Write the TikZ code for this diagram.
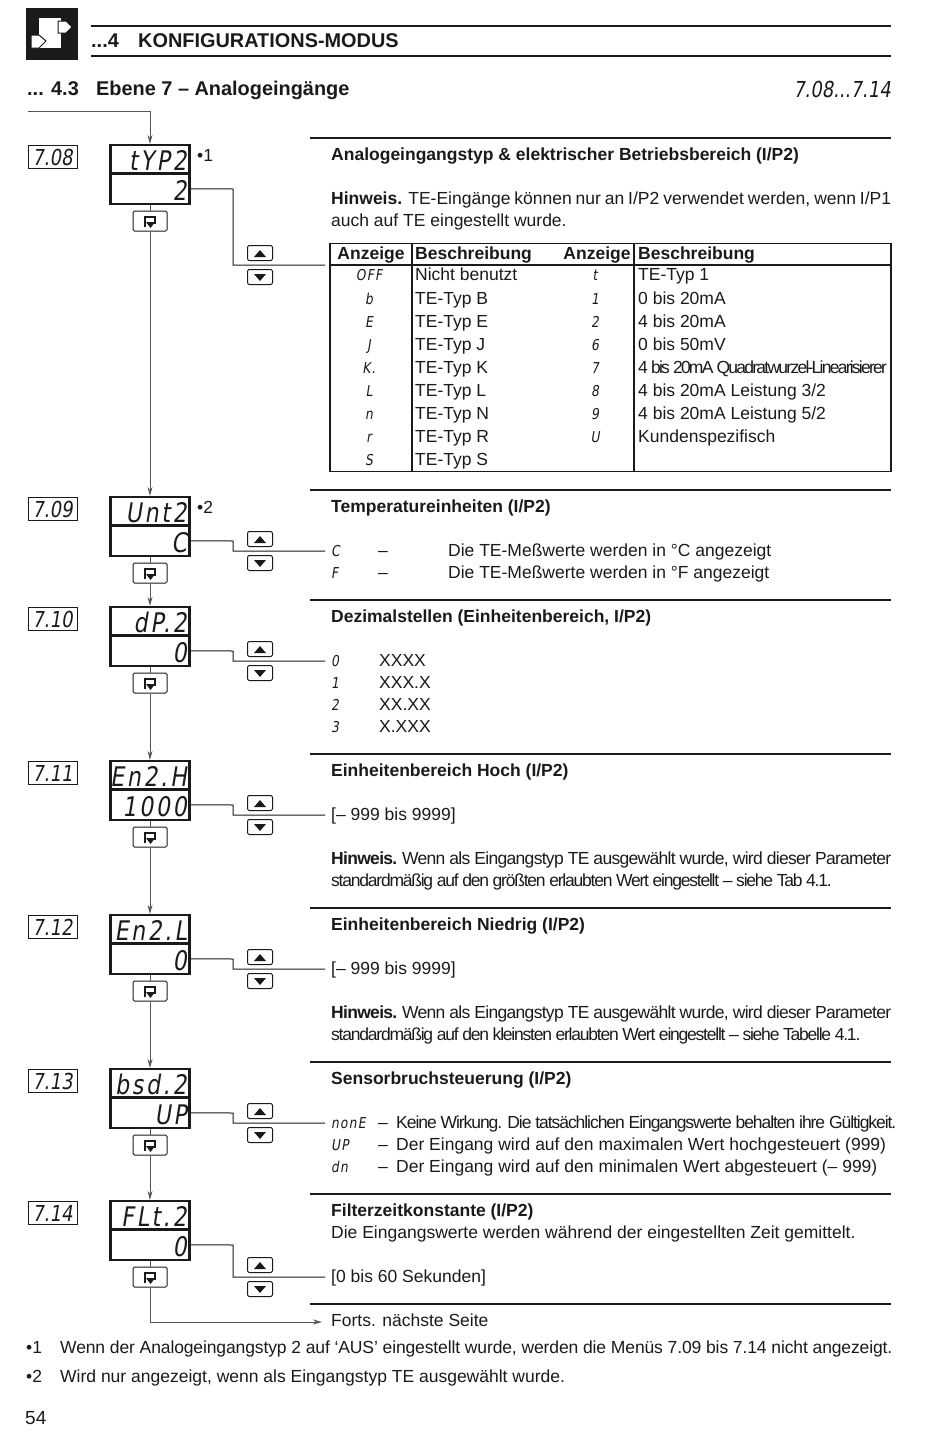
\documentclass[tikz,border=0pt]{standalone}
\usepackage{fontspec}
\setmainfont{Liberation Sans}
\newfontfamily\segfont[FakeSlant=0.16,FakeStretch=0.82]{DejaVu Sans}
\usetikzlibrary{arrows.meta}
\definecolor{ink}{HTML}{1A1A1A}
\definecolor{wire}{HTML}{555555}
\newcommand{\tightfont}[1]{\addfontfeatures{LetterSpace=#1}}
\newcommand{\bodyfont}{\fontsize{17.5}{20}\selectfont}
\newcommand{\headfont}{\fontsize{19.9}{22}\selectfont\bfseries}
\tikzstyle{txt} = [anchor=base west, inner sep=0pt, text=ink, font=\bodyfont]
\tikzstyle{btxt} = [txt, font=\bodyfont\bfseries]
\tikzstyle{htxt} = [txt, font=\headfont]
\tikzstyle{seg} = [anchor=base, inner sep=0pt, text=ink, font=\fontsize{15}{18}\segfont\tightfont{8}]
\tikzstyle{segw} = [seg, anchor=base west]
\tikzstyle{dispseg} = [anchor=base east, inner sep=0pt, text=ink, font=\fontsize{27}{30}\segfont\tightfont{10}]
\tikzstyle{codebox} = [draw=ink, line width=0.9pt, minimum width=49pt, minimum height=23pt, inner sep=0pt, text=ink, font=\fontsize{22}{24}\segfont]
\tikzstyle{disp} = [draw=ink, line width=2.2pt, minimum width=79pt, inner sep=0pt]
\tikzstyle{retbtn} = [draw=ink, line width=1pt, rounded corners=1.5pt, minimum width=34pt, minimum height=20pt, inner sep=0pt]
\tikzstyle{arrbtn} = [draw=ink, line width=1pt, rounded corners=1.5pt, minimum width=25pt, minimum height=15pt, inner sep=0pt]
\tikzstyle{rule} = [ink, line width=1.2pt]
\tikzstyle{wireline} = [wire, line width=1pt]
\tikzstyle{diredge} = [wire, line width=1pt, -{Stealth[length=9pt,width=5pt]}]

\begin{document}
\begin{tikzpicture}[x=1pt,y=-1pt]
    \useasboundingbox (0,0) rectangle (950,1436);
    % page head
    \fill[ink] (26,8) rectangle (78,60);
    \fill[white] (39,18) rectangle (61,48);
    \filldraw[fill=white,draw=ink,line width=1pt] (58,21) -- (66,21) -- (72,27) -- (66,33) -- (58,33) -- cycle;
    \filldraw[fill=white,draw=ink,line width=1pt] (31,35) -- (39,35) -- (46,41) -- (39,48) -- (31,48) -- cycle;
    \draw[rule] (91,26) -- (891,26);
    \draw[rule] (91,56) -- (891,56);
    \node[htxt] (chapnum) at (91,47) {...4};
    \node[htxt] (chaptitle) at (138,47) {KONFIGURATIONS-MODUS};
    \node[htxt] (secnum) at (27,95) {... 4.3};
    \node[htxt] (sectitle) at (96,95) {Ebene 7 – Analogeingänge};
    \node[dispseg,font=\fontsize{22}{24}\segfont] (secrange) at (891,97) {7.08...7.14};
    % the seven menu entries
    \foreach \n/\t/\val/\up/\lo/\lev in {1/145/7.08/tYP2/2/265,2/497/7.09/Unt2/C/551,3/607/7.10/dP.2/0/661,4/761/7.11/En2.H/1000/815,5/915/7.12/En2.L/0/969,6/1069/7.13/bsd.2/UP/1123,7/1201/7.14/FLt.2/0/1277}
    {
        \node[codebox] (code\n) at (52.5,\t+12) {\val};
        \node[disp,minimum height=28.5pt] (upper\n) at (150,\t+14.25) {};
        \node[disp,minimum height=30.5pt] (lower\n) at (150,\t+43.75) {};
        \node[dispseg] (uptext\n) at (187,\t+25) {\up};
        \node[dispseg] (lotext\n) at (187,\t+55) {\lo};
        \node[retbtn] (ret\n) at (150,\t+76) {};
        \draw[line width=2.6pt,ink] (145,\t+82) -- (145,\t+72) -- (155,\t+72) -- (155,\t+79);
        \fill[ink] (146,\t+77) -- (155,\t+77) -- (150.5,\t+83) -- cycle;
        \node[arrbtn] (up\n) at (260,\lev-12) {};
        \node[arrbtn] (down\n) at (260,\lev+12) {};
        \fill[ink] (254,\lev-8) -- (266,\lev-8) -- (260,\lev-15) -- cycle;
        \fill[ink] (254,\lev+9) -- (266,\lev+9) -- (260,\lev+16) -- cycle;
        \coordinate (end\n) at (325,\lev);
        \draw[wireline,ink] (lower\n.east) -- (233,\t+44) -- (233,\lev) -- (end\n);
        \draw[wireline] (lower\n.south) -- (ret\n.north);
    }
    \foreach \a/\b in {1/2,2/3,3/4,4/5,5/6,6/7}
        \draw[diredge] (ret\a.south) -- (upper\b.north);
    \coordinate (entry) at (28,111);
    \coordinate (corner) at (150,111);
    \draw[diredge] (entry) -- (corner) -- (upper1.north);
    \coordinate (corner2) at (150,1322);
    \coordinate (nextpage) at (322,1322);
    \draw[diredge] (ret7.south) -- (corner2) -- (nextpage);
    \node[txt] (mark1) at (197,161) {•1};
    \node[txt] (mark2) at (197,513) {•2};
    % section rules
    \foreach \y in {138,490,600,754,908,1062,1194,1304}
        \draw[rule] (310,\y) -- (891,\y);
    % first section and table
    \node[btxt] (head1) at (331,160) {Analogeingangstyp \& elektrischer Betriebsbereich (I/P2)};
    \node[txt] (hint1a) at (331,204) {\makebox[560pt][s]{\textbf{Hinweis.} TE-Eingänge können nur an I/P2 verwendet werden, wenn I/P1}};
    \node[txt] (hint1b) at (331,226) {auch auf TE eingestellt wurde.};
    \draw[ink,line width=1.2pt] (330,243.5) rectangle (891,471.5);
    \draw[ink,line width=1.2pt] (330,265) -- (891,265);
    \draw[ink,line width=1.2pt] (412,243.5) -- (412,471.5);
    \draw[ink,line width=1.2pt] (634,243.5) -- (634,471.5);
    \node[btxt,anchor=base] (colA) at (371,259) {Anzeige};
    \node[btxt] (colB) at (415,259) {Beschreibung};
    \node[btxt,anchor=base] (colC) at (597,259) {Anzeige};
    \node[btxt] (colD) at (638,259) {Beschreibung};
    \foreach \n/\y/\c/\d in {1/280/OFF/Nicht benutzt,2/304/b/TE-Typ B,3/327/E/TE-Typ E,4/350/J/TE-Typ J,5/373/K./TE-Typ K,6/396/L/TE-Typ L,7/419/n/TE-Typ N,8/442/r/TE-Typ R,9/465/S/TE-Typ S}
    {
        \node[seg] (cl\n) at (369,\y) {\c};
        \node[txt] (tl\n) at (415,\y) {\d};
    }
    \foreach \n/\y/\c/\d in {1/280/t/TE-Typ 1,2/304/1/0 bis 20mA,3/327/2/4 bis 20mA,4/350/6/0 bis 50mV,6/396/8/{4 bis 20mA Leistung 3/2},7/419/9/{4 bis 20mA Leistung 5/2},8/442/U/Kundenspezifisch}
    {
        \node[seg] (cr\n) at (595,\y) {\c};
        \node[txt] (tr\n) at (638,\y) {\d};
    }
    \node[seg] (cr5) at (595,373) {7};
    \node[txt,font=\bodyfont\tightfont{-10}] (tr5) at (638,373) {4 bis 20mA Quadratwurzel-Linearisierer};
    % temperature units
    \node[btxt] (head2) at (331,512) {Temperatureinheiten (I/P2)};
    \foreach \n/\y/\c in {1/556/C,2/578/F}
    {
        \node[segw] (unit\n) at (331,\y) {\c};
        \node[txt] (unitdash\n) at (378,\y) {–};
        \node[txt] (unittext\n) at (448,\y) {Die TE-Meßwerte werden in °\c{} angezeigt};
    }
    % decimal places
    \node[btxt] (head3) at (331,622) {Dezimalstellen (Einheitenbereich, I/P2)};
    \foreach \n/\y/\c/\d in {1/666/0/XXXX,2/688/1/XXX.X,3/710/2/XX.XX,4/732/3/X.XXX}
    {
        \node[seg] (dec\n) at (335,\y) {\c};
        \node[txt] (dectext\n) at (379,\y) {\d};
    }
    % upper and lower range
    \node[btxt] (head4) at (331,776) {Einheitenbereich Hoch (I/P2)};
    \node[txt] (range4) at (331,820) {[– 999 bis 9999]};
    \node[txt,font=\bodyfont\tightfont{-4}] (hint4a) at (331,864) {\makebox[560pt][s]{\textbf{Hinweis.} Wenn als Eingangstyp TE ausgewählt wurde, wird dieser Parameter}};
    \node[txt,font=\bodyfont\tightfont{-7}] (hint4b) at (331,886) {standardmäßig auf den größten erlaubten Wert eingestellt – siehe Tab 4.1.};
    \node[btxt] (head5) at (331,930) {Einheitenbereich Niedrig (I/P2)};
    \node[txt] (range5) at (331,974) {[– 999 bis 9999]};
    \node[txt,font=\bodyfont\tightfont{-4}] (hint5a) at (331,1018) {\makebox[560pt][s]{\textbf{Hinweis.} Wenn als Eingangstyp TE ausgewählt wurde, wird dieser Parameter}};
    \node[txt,font=\bodyfont\tightfont{-7}] (hint5b) at (331,1040) {standardmäßig auf den kleinsten erlaubten Wert eingestellt – siehe Tabelle 4.1.};
    % sensor break
    \node[btxt] (head6) at (331,1084) {Sensorbruchsteuerung (I/P2)};
    \node[segw] (brk1) at (331,1128) {nonE};
    \node[txt] (brkdash1) at (378,1128) {–};
    \node[txt,font=\bodyfont\tightfont{-6}] (brktext1) at (396,1128) {Keine Wirkung. Die tatsächlichen Eingangswerte behalten ihre Gültigkeit.};
    \node[segw] (brk2) at (331,1150) {UP};
    \node[txt] (brkdash2) at (378,1150) {–};
    \node[txt] (brktext2) at (396,1150) {Der Eingang wird auf den maximalen Wert hochgesteuert (999)};
    \node[segw] (brk3) at (331,1172) {dn};
    \node[txt] (brkdash3) at (378,1172) {–};
    \node[txt] (brktext3) at (396,1172) {Der Eingang wird auf den minimalen Wert abgesteuert (– 999)};
    % filter time
    \node[btxt] (head7) at (331,1216) {Filterzeitkonstante (I/P2)};
    \node[txt] (filt1) at (331,1238) {Die Eingangswerte werden während der eingestellten Zeit gemittelt.};
    \node[txt] (filt2) at (331,1282) {[0 bis 60 Sekunden]};
    \node[txt] (cont) at (331,1326) {Forts. nächste Seite};
    % footnotes
    \node[txt] (fn1mark) at (26,1353) {•1};
    \node[txt,font=\bodyfont\tightfont{-0.7}] (fn1) at (60,1353) {Wenn der Analogeingangstyp 2 auf ‘AUS’ eingestellt wurde, werden die Menüs 7.09 bis 7.14 nicht angezeigt.};
    \node[txt] (fn2mark) at (26,1382) {•2};
    \node[txt] (fn2) at (60,1382) {Wird nur angezeigt, wenn als Eingangstyp TE ausgewählt wurde.};
    \node[txt,font=\fontsize{19}{22}\selectfont] (pageno) at (25,1424) {54};
\end{tikzpicture}
\end{document}
